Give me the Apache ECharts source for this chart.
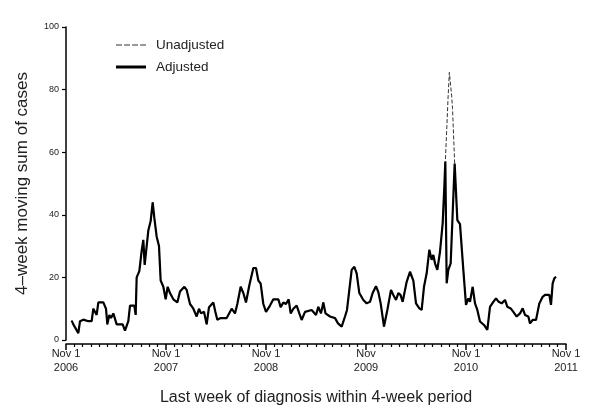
<!DOCTYPE html>
<html><head><meta charset="utf-8">
<script src="https://cdn.jsdelivr.net/npm/echarts@6/dist/echarts.min.js"></script>
<style>html,body{margin:0;padding:0;background:#fff}#c{width:600px;height:419px}</style>
</head><body><div id="c"></div>
<script>
// x in months since Nov 1 2006
const xTickLabels = ["Nov 1\n2006","Nov 1\n2007","Nov 1\n2008","Nov\n2009","Nov 1\n2010","Nov 1\n2011"];
const adjMonths = [0.68,0.88,1.48,1.68,2.08,2.28,2.68,3.08,3.28,3.68,3.88,4.48,4.80,4.96,5.20,5.40,5.68,5.92,6.08,6.48,6.80,7.08,7.48,7.68,8.20,8.36,8.48,8.80,9.08,9.28,9.44,9.68,9.88,10.16,10.40,10.60,10.88,11.16,11.36,11.68,11.96,12.20,12.48,12.88,13.36,13.68,13.88,14.20,14.48,14.88,15.28,15.68,15.96,16.20,16.56,16.88,17.16,17.68,17.92,18.16,18.56,19.28,19.88,20.28,20.56,20.96,21.28,21.60,22.00,22.48,22.80,23.08,23.36,23.68,24.00,24.48,24.88,25.48,25.76,26.08,26.40,26.72,26.96,27.28,27.68,28.00,28.28,28.68,29.48,30.00,30.28,30.60,30.88,31.14,31.68,32.28,32.64,33.08,33.48,33.72,34.00,34.28,34.60,34.88,35.20,35.68,36.08,36.48,36.80,37.20,37.48,37.76,38.16,38.56,39.00,39.28,39.60,39.88,40.14,40.40,40.88,41.28,41.68,42.00,42.40,42.68,42.96,43.28,43.60,43.88,44.08,44.28,44.56,44.88,45.20,45.40,45.52,45.68,45.88,46.16,46.40,46.64,46.96,47.28,47.68,48.00,48.28,48.48,48.80,49.08,49.36,49.68,50.16,50.56,50.88,51.28,51.60,51.92,52.28,52.68,52.96,53.36,53.68,54.08,54.48,54.80,55.08,55.48,55.68,56.00,56.40,56.80,57.20,57.48,57.72,58.00,58.20,58.40,58.60,58.80];
const adjValues = [6.2,5,2.2,6,6.5,7,6,6,10,8,12,12,10,5,8,7,8.5,8.5,5,5,5,3,6,11,11,8,20,22,28.5,32,24,30,35,38,44,39,33,30,19,17,13,17,15,13,12,15.5,15,17,16,11.5,10,7.5,10,8.5,9,5,10.5,12,9,6.5,7,7,10,8.5,11.5,17,15,12,17.5,23,23,19,18,11.5,9,11,13,13,10.5,12,11.5,13,8.5,10,11,8.5,6.4,9,9.6,8,10.6,8.5,12,8.5,7.5,7,5.3,4.3,7.5,9.6,16,22.4,23.4,21.3,15,12.8,11.7,12.2,15,17.2,15.3,11.7,4.3,9.6,16,14.4,12.8,15,14.4,12.2,18.6,21.8,19,11.7,10.1,9.6,17,21.3,28.8,25.6,27.2,24.5,22.4,28.2,37.3,49,57,18.1,22.4,24.5,25,56.4,38.3,37,22.4,11.2,13.3,12.2,17,11.7,9.6,5.9,4.8,3.2,10.6,12.2,13.3,12.2,11.7,12.8,10.6,10.1,9,7.5,8.5,10.1,8,7.5,5.3,6.4,6.4,11.7,13.8,14.4,13.8,14.4,11.2,18.1,19.7,20.2];
// Unadjusted differs from adjusted only around the 2009 peak
const unadjPeakMonths = [45.52,45.70,45.84,46.00,46.16,46.28,46.38,46.50,46.64];
const unadjPeakValues = [57,68,77,85.5,85.5,78,74,66,56.4];

const adjData = adjMonths.map((m,i)=>[m, adjValues[i]]);
const peakStart = unadjPeakMonths[0], peakEnd = unadjPeakMonths[unadjPeakMonths.length-1];
const unadjData = adjData.filter(p => p[0] < peakStart)
  .concat(unadjPeakMonths.map((m,i)=>[m, unadjPeakValues[i]]))
  .concat(adjData.filter(p => p[0] > peakEnd));

const chart = echarts.init(document.getElementById('c'), null, {renderer:'canvas'});
const font = '"Liberation Sans", Arial, sans-serif';
chart.setOption({
  animation:false,
  backgroundColor:'#fff',
  textStyle:{fontFamily:font},
  grid:{left:66, right:34, top:27, bottom:79, containLabel:false},
  legend:{
    show:true, orient:'vertical', left:111, top:33, itemWidth:30, itemHeight:10, itemGap:8,
    textStyle:{fontSize:13.5, color:'#222', fontFamily:font, padding:[0,0,0,5]},
    data:[{name:'Unadjusted', icon:'path://M0,0 L6,0 L6,1 L0,1 Z M8,0 L14,0 L14,1 L8,1 Z M16,0 L22,0 L22,1 L16,1 Z M24,0 L30,0 L30,1 L24,1 Z'},
          {name:'Adjusted', icon:'path://M0,0 L30,0 L30,3 L0,3 Z'}]
  },
  xAxis:{
    type:'value', min:0, max:60, interval:12, offset:4,
    axisLine:{show:true, onZero:false, lineStyle:{color:'#000', width:1.5}},
    axisTick:{show:true, length:6, lineStyle:{color:'#000', width:1.5}},
    minorTick:{show:true, splitNumber:12, length:3, lineStyle:{color:'#000', width:1.2}},
    splitLine:{show:false},
    axisLabel:{color:'#222', fontSize:11, lineHeight:14, margin:3, fontFamily:font,
      formatter:(v)=>xTickLabels[Math.round(v/12)]},
    name:'Last week of diagnosis within 4-week period', nameLocation:'middle', nameGap:46,
    nameTextStyle:{fontSize:16, color:'#222', fontFamily:font}
  },
  yAxis:{
    type:'value', min:0, max:100, interval:20, offset:3,
    axisLine:{show:true, lineStyle:{color:'#000', width:1.5}},
    axisTick:{show:true, length:4, lineStyle:{color:'#000', width:1.2}},
    splitLine:{show:false},
    axisLabel:{color:'#222', fontSize:9, margin:4, fontFamily:font},
    name:'4–week moving sum of cases', nameLocation:'middle', nameGap:32,
    nameTextStyle:{fontSize:17, color:'#222', fontFamily:font}
  },
  series:[
    {name:'Unadjusted', type:'line', data:unadjData, symbol:'none', z:2,
     lineStyle:{color:'#333', width:1, type:[4,2]}, itemStyle:{color:'#333'}},
    {name:'Adjusted', type:'line', data:adjData, symbol:'none', z:3,
     lineStyle:{color:'#000', width:2.2}, itemStyle:{color:'#000'}}
  ]
});
</script></body></html>
